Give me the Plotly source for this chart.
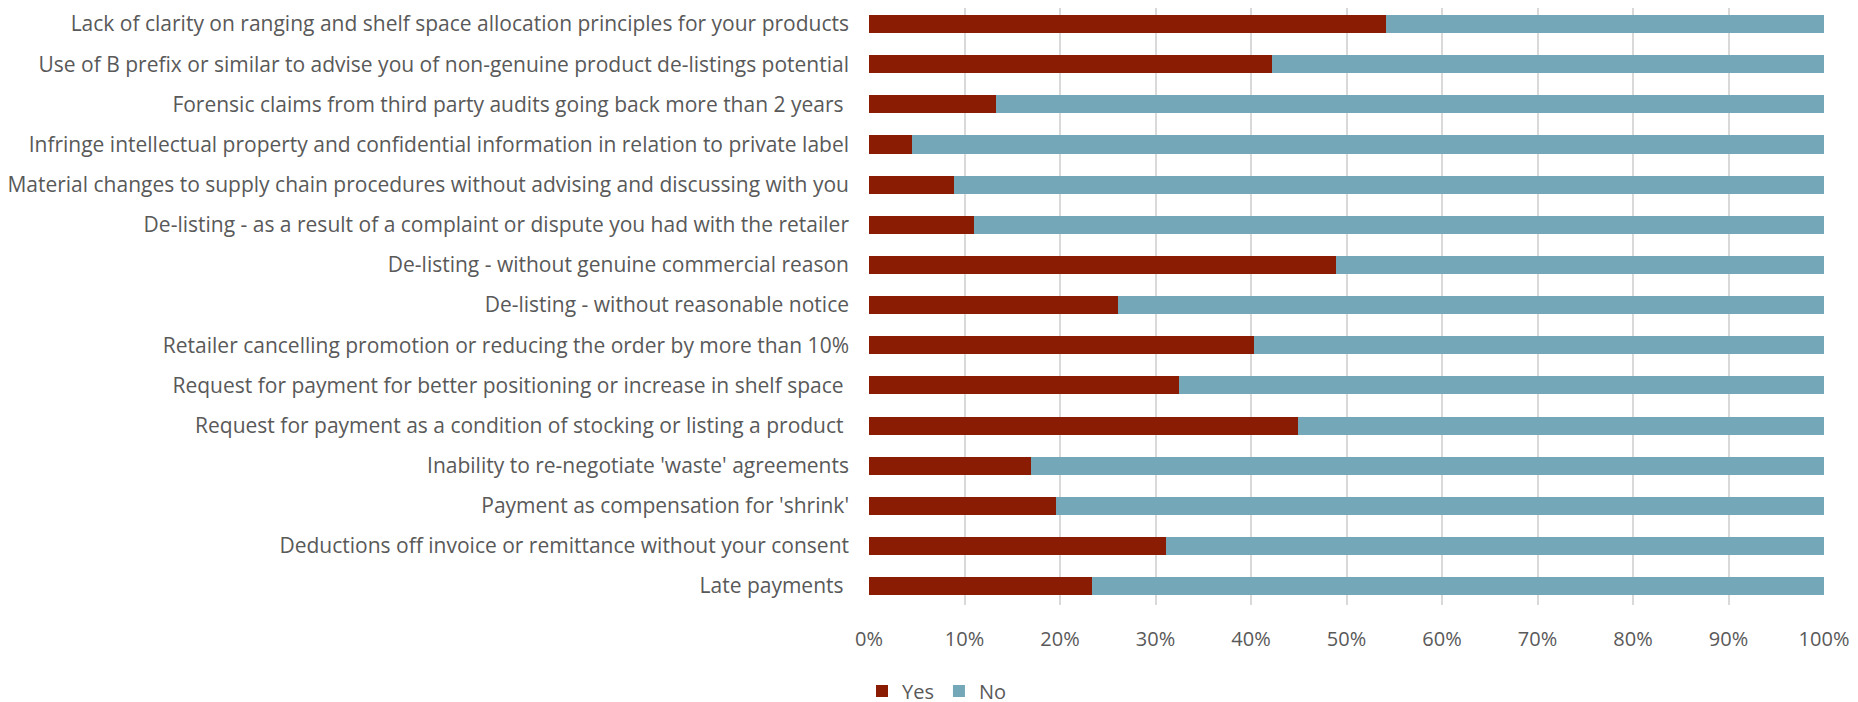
import plotly.graph_objects as go

categories = [
    "Lack of clarity on ranging and shelf space allocation principles for your products",
    "Use of B prefix or similar to advise you of non-genuine product de-listings potential",
    "Forensic claims from third party audits going back more than 2 years ",
    "Infringe intellectual property and confidential information in relation to private label",
    "Material changes to supply chain procedures without advising and discussing with you",
    "De-listing - as a result of a complaint or dispute you had with the retailer",
    "De-listing - without genuine commercial reason",
    "De-listing - without reasonable notice",
    "Retailer cancelling promotion or reducing the order by more than 10%",
    "Request for payment for better positioning or increase in shelf space ",
    "Request for payment as a condition of stocking or listing a product ",
    "Inability to re-negotiate 'waste' agreements",
    "Payment as compensation for 'shrink'",
    "Deductions off invoice or remittance without your consent",
    "Late payments ",
]
yes_pct = [54.1, 42.2, 13.3, 4.5, 8.9, 11.0, 48.9, 26.1, 40.3, 32.5, 44.9, 17.0, 19.6, 31.1, 23.3]
no_pct = [100 - v for v in yes_pct]
x_ticks = [0, 10, 20, 30, 40, 50, 60, 70, 80, 90, 100]
x_tick_labels = [f"{t}%" for t in x_ticks]

FONT = "Open Sans, sans-serif"
TEXT = "#595959"

fig = go.Figure()
fig.add_trace(go.Bar(y=categories, x=yes_pct, name="Yes", orientation="h",
                     marker=dict(color="#8A1C03", line=dict(width=0))))
fig.add_trace(go.Bar(y=categories, x=no_pct, name="No", orientation="h",
                     marker=dict(color="#74A7B8", line=dict(width=0))))

fig.update_layout(
    width=1858, height=702,
    barmode="stack", bargap=0.55,
    plot_bgcolor="white", paper_bgcolor="white",
    margin=dict(l=861, r=42, t=0, b=105, autoexpand=False),
    font=dict(family=FONT, size=20, color=TEXT),
    showlegend=True,
    legend=dict(orientation="h", xref="container", yref="container",
                x=0.5, xanchor="center", y=0.027, yanchor="middle",
                font=dict(family=FONT, size=20, color=TEXT),
                traceorder="normal", itemwidth=30),
)
fig.update_xaxes(range=[0, 100], tickvals=x_ticks, ticktext=x_tick_labels,
                 showgrid=True, gridcolor="#D9D9D9", gridwidth=2,
                 zeroline=False, showline=False, ticks="",
                 ticklabelstandoff=20,
                 tickfont=dict(family=FONT, size=20, color=TEXT))
fig.update_yaxes(range=[14.47, -0.4], showgrid=False, zeroline=False,
                 showline=False, ticks="", ticklabelstandoff=19,
                 tickfont=dict(family=FONT, size=21, color=TEXT))

fig.write_html("out.html")
